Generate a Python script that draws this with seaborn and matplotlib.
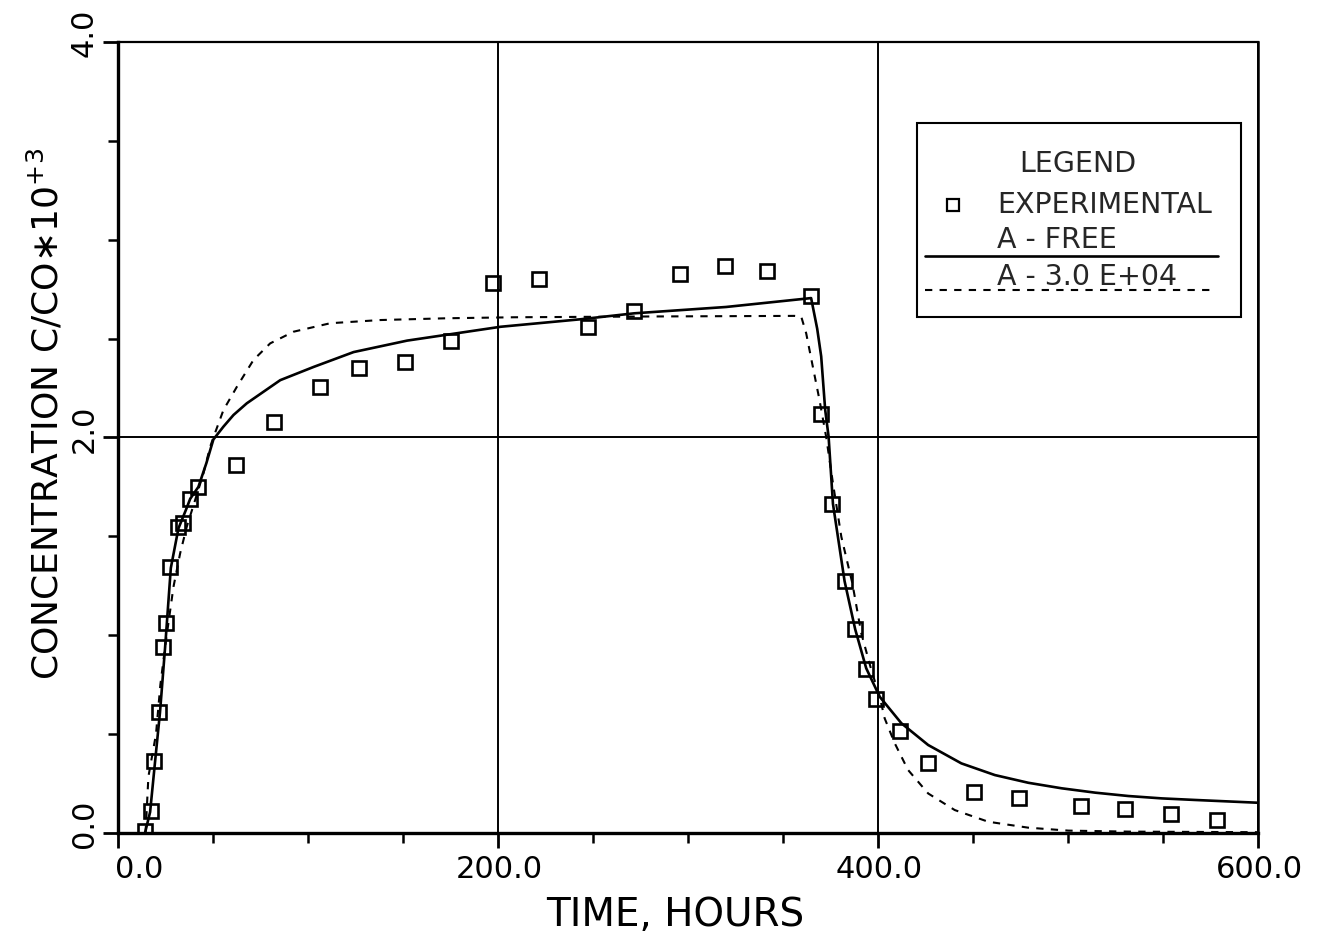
import matplotlib
matplotlib.use("Agg")
import matplotlib.pyplot as plt
from matplotlib import font_manager
from matplotlib.transforms import ScaledTranslation
from matplotlib.lines import Line2D
from matplotlib.patches import Rectangle
import numpy as np
import pandas as pd
import seaborn as sns

# ---- measured breakthrough data (hours, C/C0 * 10^3) ----
exp_time = [14.2, 17.2, 19.2, 21.8, 23.9, 25.5, 27.6, 31.7, 34.4, 38.0, 42.1,
            62.2, 82.2, 106.3, 126.8, 151.0, 175.0, 197.4, 221.5, 247.4, 271.6,
            295.8, 319.5, 341.6, 364.8, 370.0, 376.0, 382.4, 388.0, 393.8, 399.2,
            411.6, 426.5, 450.5, 474.0, 507.0, 530.2, 554.3, 578.2]
exp_conc = [0.01, 0.11, 0.365, 0.61, 0.94, 1.06, 1.345, 1.545, 1.57, 1.69, 1.75,
            1.86, 2.078, 2.255, 2.351, 2.382, 2.488, 2.781, 2.801, 2.56, 2.642,
            2.825, 2.867, 2.842, 2.716, 2.12, 1.665, 1.275, 1.03, 0.83, 0.68,
            0.515, 0.355, 0.205, 0.178, 0.137, 0.12, 0.096, 0.066]

# ---- model fit, dispersivity A free ----
free_time = [14.2, 16.9, 19.5, 22.1, 24.8, 27.8, 31.8, 36.0, 38.0, 42.3, 46.5,
             50.2, 55.5, 60.8, 67.8, 85.4, 103.0, 124.0, 152.2, 173.3, 201.4, 243.6,
             271.7, 320.0, 364.8, 368.0, 370.1, 372.2, 374.0, 376.3, 382.4, 388.0,
             393.8, 400.9, 412.3, 426.4, 443.9, 461.5, 479.1, 496.7, 514.3, 531.8,
             549.4, 567.0, 600.0]
free_conc = [0.0, 0.106, 0.36, 0.61, 0.94, 1.34, 1.54, 1.64, 1.69, 1.75, 1.87,
             1.99, 2.055, 2.114, 2.173, 2.29, 2.357, 2.432, 2.49, 2.52, 2.56, 2.598,
             2.628, 2.66, 2.705, 2.55, 2.41, 2.14, 2.004, 1.664, 1.274, 1.03,
             0.833, 0.689, 0.555, 0.445, 0.352, 0.293, 0.254, 0.226, 0.204, 0.187,
             0.175, 0.167, 0.153]

# ---- model fit, dispersivity A = 3.0E+04 ----
fixed_time = [14.5, 16.0, 20.0, 22.3, 25.2, 29.2, 32.7, 36.2, 40.6, 45.0, 48.5,
              50.2, 55.5, 62.6, 71.3, 80.1, 92.4, 111.8, 138.1, 173.3, 208.4,
              280.0, 356.0, 359.6, 362.2, 365.7, 369.2, 372.7, 376.3, 380.7, 386.5,
              391.2, 396.5, 400.9, 403.5, 408.8, 415.8, 426.4, 440.4, 458.0, 479.0,
              500.2, 531.8, 600.0]
fixed_conc = [0.0, 0.285, 0.5, 0.75, 0.97, 1.245, 1.414, 1.549, 1.684, 1.82, 1.953,
              2.0, 2.139, 2.257, 2.392, 2.476, 2.535, 2.578, 2.594, 2.603, 2.608,
              2.612, 2.615, 2.611, 2.527, 2.358, 2.19, 2.004, 1.768, 1.498, 1.263,
              1.01, 0.824, 0.689, 0.58, 0.454, 0.319, 0.2, 0.116, 0.057, 0.027,
              0.012, 0.007, 0.004]

x_major = [0, 200, 400, 600]
x_labels = ["0.0", "200.0", "400.0", "600.0"]
y_major = [0, 2, 4]
y_labels = ["0.0", "2.0", "4.0"]

legend_title = "LEGEND"
legend_entries = ["EXPERIMENTAL", "A - FREE", "A - 3.0 E+04"]

sns.set_theme(style="ticks")
plt.rcParams["font.family"] = ["DejaVu Sans"]

available = {f.name for f in font_manager.fontManager.ttflist}
tick_family = "Liberation Sans Narrow" if "Liberation Sans Narrow" in available else "DejaVu Sans"

fig = plt.figure(figsize=(13.18, 9.43), dpi=100)
ax = fig.add_axes([118 / 1318, 110 / 943, 1140 / 1318, 791 / 943])

exp_df = pd.DataFrame({"time": exp_time, "conc": exp_conc})
free_df = pd.DataFrame({"time": free_time, "conc": free_conc})
fixed_df = pd.DataFrame({"time": fixed_time, "conc": fixed_conc})

sns.lineplot(data=free_df, x="time", y="conc", ax=ax, estimator=None, sort=False,
             color="black", linewidth=1.9, zorder=3)
sns.lineplot(data=fixed_df, x="time", y="conc", ax=ax, estimator=None, sort=False,
             color="black", linewidth=1.5, linestyle=(0, (3.5, 3.5)), zorder=3)
sns.lineplot(data=exp_df, x="time", y="conc", ax=ax, estimator=None, sort=False,
             linestyle="none", marker="s", markersize=10, markerfacecolor="none",
             markeredgecolor="black", markeredgewidth=1.9, color="black", zorder=4)

ax.set_xlim(0, 600)
ax.set_ylim(0, 4)
ax.set_xticks(x_major)
ax.set_xticklabels(x_labels)
ax.set_yticks(y_major)
ax.set_yticklabels(y_labels)
ax.set_xticks(np.arange(0, 601, 50), minor=True)
ax.set_yticks(np.arange(0, 4.01, 0.5), minor=True)

ax.grid(True, which="major", color="black", linewidth=1.4)
ax.set_axisbelow(True)

for side, lw in (("left", 2.4), ("bottom", 2.4), ("top", 1.6), ("right", 1.8)):
    ax.spines[side].set_visible(True)
    ax.spines[side].set_color("black")
    ax.spines[side].set_linewidth(lw)

ax.tick_params(axis="both", which="major", direction="out", length=11, width=2.0,
               color="black", labelsize=22, labelcolor="black")
ax.tick_params(axis="both", which="minor", direction="out", length=7, width=1.8,
               color="black")
ax.tick_params(axis="x", which="major", pad=5)
ax.tick_params(axis="y", which="major", pad=3)

ax.set_xlabel("TIME, HOURS", fontsize=28, color="black")
ax.xaxis.set_label_coords(0.4886, -0.08)
ax.set_ylabel("CONCENTRATION C/CO\u221710$^{+3}$", fontsize=26, color="black")
ax.yaxis.set_label_coords(-0.046, 0.53)

# x labels sit to the right of their tick, y labels above theirs
shift_x = ScaledTranslation(45 / 100, 0, fig.dpi_scale_trans)
for lbl in ax.get_xticklabels():
    lbl.set_fontfamily(tick_family)
    lbl.set_fontsize(27 if tick_family != "DejaVu Sans" else 22)
    lbl.set_horizontalalignment("right")
    lbl.set_transform(lbl.get_transform() + shift_x)
shift_y = ScaledTranslation(0, 33 / 100, fig.dpi_scale_trans)
for lbl in ax.get_yticklabels():
    lbl.set_fontfamily(tick_family)
    lbl.set_fontsize(27 if tick_family != "DejaVu Sans" else 22)
    lbl.set_rotation(90)
    lbl.set_verticalalignment("top")
    lbl.set_horizontalalignment("right")
    lbl.set_transform(lbl.get_transform() + shift_y)

# legend panel
tr = ax.transAxes
ax.add_patch(Rectangle((0.7009, 0.6523), 0.985 - 0.7009, 0.8976 - 0.6523,
                       transform=tr, facecolor="white", edgecolor="black",
                       linewidth=1.5, zorder=5))
ax.text(0.842, 0.8458, legend_title, transform=tr, ha="center", va="center",
        fontsize=20.5, zorder=6)
ax.add_line(Line2D([0.7325], [0.794], transform=tr, marker="s", markersize=8,
                   markerfacecolor="none", markeredgecolor="black",
                   markeredgewidth=1.6, linestyle="none", zorder=6))
ax.text(0.771, 0.794, legend_entries[0], transform=tr, ha="left", va="center",
        fontsize=20.5, zorder=6)
ax.text(0.771, 0.7497, legend_entries[1], transform=tr, ha="left", va="center",
        fontsize=20.5, zorder=6)
ax.add_line(Line2D([0.708, 0.965], [0.7295, 0.7295], transform=tr, color="black",
                   linewidth=1.9, zorder=6))
ax.text(0.771, 0.703, legend_entries[2], transform=tr, ha="left", va="center",
        fontsize=20.5, zorder=6)
ax.add_line(Line2D([0.708, 0.962], [0.6865, 0.6865], transform=tr, color="black",
                   linewidth=1.5, linestyle=(0, (3.5, 3.5)), zorder=6))

fig.savefig("out.png", dpi=100, facecolor="white")
